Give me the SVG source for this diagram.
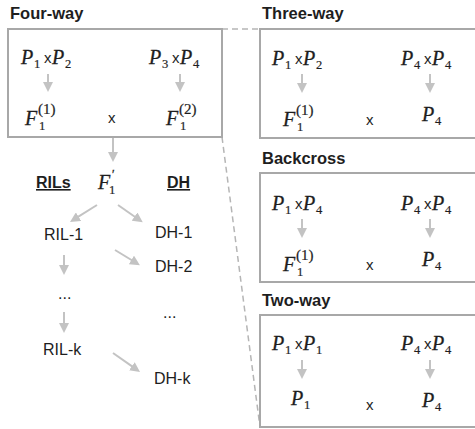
<svg xmlns="http://www.w3.org/2000/svg" width="475" height="429" viewBox="0 0 475 429">
<defs>
<marker id="ah" markerUnits="userSpaceOnUse" markerWidth="10" markerHeight="10" viewBox="0 0 10 10" refX="2" refY="5" orient="auto">
<path d="M0,0 L10,5 L0,10 z" fill="#c3c3c3"/>
</marker>
<style>
.box{fill:none;stroke:#a8a8a8;stroke-width:2}
.dash{fill:none;stroke:#b5b5b5;stroke-width:1.5;stroke-dasharray:6,4}
.arr{fill:none;stroke:#c3c3c3;stroke-width:2;marker-end:url(#ah)}
.t{font-family:"Liberation Sans",Arial,sans-serif;font-size:16px;fill:#1e1e1e}
.h{font-family:"Liberation Sans",Arial,sans-serif;font-size:16.5px;font-weight:bold;fill:#1e1e1e}
.u{font-family:"Liberation Sans",Arial,sans-serif;font-size:16px;font-weight:bold;fill:#1e1e1e;text-decoration:underline}
.m{font-family:"Liberation Serif","DejaVu Serif",serif;font-style:italic;font-size:20px;fill:#1e1e1e;stroke:#1e1e1e;stroke-width:0.3}
.s{font-family:"Liberation Serif","DejaVu Serif",serif;font-style:normal;font-size:12.5px;fill:#1e1e1e;stroke:#1e1e1e;stroke-width:0.2}
.sp{font-family:"Liberation Serif","DejaVu Serif",serif;font-style:normal;font-size:15px;fill:#1e1e1e;stroke:#1e1e1e;stroke-width:0.2}
.pr{font-family:"Liberation Serif","DejaVu Serif",serif;font-style:normal;font-size:12px;fill:#1e1e1e;stroke:#1e1e1e;stroke-width:0.3}
.x{font-family:"Liberation Sans",Arial,sans-serif;font-size:15px;fill:#1e1e1e}
</style>
</defs>

<g id="connectors">
<line class="dash" x1="222" y1="29" x2="260" y2="29"/>
<line class="dash" x1="222" y1="137" x2="260" y2="427"/>
<line class="arr" x1="113" y1="137" x2="113" y2="154"/>
<line class="arr" x1="97" y1="205" x2="76.8" y2="217.7"/>
<line class="arr" x1="118" y1="205" x2="136.2" y2="217.7"/>
<line class="arr" x1="115" y1="250" x2="133.1" y2="261"/>
<line class="arr" x1="64" y1="255" x2="64" y2="267"/>
<line class="arr" x1="64" y1="312" x2="64" y2="325"/>
<line class="arr" x1="113" y1="353" x2="133.5" y2="367.4"/>
</g>

<g id="four-way">
<text class="h" x="10" y="19">Four-way</text>
<rect class="box" x="8" y="29" width="214" height="108"/>
<text class="m" x="21" y="64">P</text><text class="s" x="34" y="68">1</text>
<text class="x" x="44" y="63">x</text>
<text class="m" x="52" y="64">P</text><text class="s" x="65" y="68">2</text>
<line class="arr" x1="48" y1="74" x2="48" y2="84"/>
<text class="m" x="25" y="125">F</text><text class="sp" x="38" y="114">(1)</text><text class="s" x="39" y="130">1</text>
<text class="x" x="108" y="123">x</text>
<text class="m" x="149" y="64">P</text><text class="s" x="162" y="68">3</text>
<text class="x" x="172" y="63">x</text>
<text class="m" x="180" y="64">P</text><text class="s" x="193" y="68">4</text>
<line class="arr" x1="180" y1="74" x2="180" y2="84"/>
<text class="m" x="166" y="125">F</text><text class="sp" x="179" y="114">(2)</text><text class="s" x="180" y="130">1</text>
</g>

<g id="three-way">
<text class="h" x="262" y="19">Three-way</text>
<rect class="box" x="260" y="29" width="230" height="109"/>
<text class="m" x="272" y="65">P</text><text class="s" x="285" y="69">1</text>
<text class="x" x="295" y="64">x</text>
<text class="m" x="303" y="65">P</text><text class="s" x="316" y="69">2</text>
<line class="arr" x1="302" y1="74" x2="302" y2="85"/>
<text class="m" x="283" y="126">F</text><text class="sp" x="296" y="115">(1)</text><text class="s" x="297" y="131">1</text>
<text class="x" x="366" y="125">x</text>
<text class="m" x="401" y="65">P</text><text class="s" x="414" y="69">4</text>
<text class="x" x="424" y="64">x</text>
<text class="m" x="432" y="65">P</text><text class="s" x="445" y="69">4</text>
<line class="arr" x1="430" y1="74" x2="430" y2="85"/>
<text class="m" x="422" y="121">P</text><text class="s" x="435" y="125">4</text>
</g>

<g id="backcross">
<text class="h" x="262" y="164">Backcross</text>
<rect class="box" x="260" y="173" width="230" height="109"/>
<text class="m" x="272" y="210">P</text><text class="s" x="285" y="214">1</text>
<text class="x" x="295" y="209">x</text>
<text class="m" x="303" y="210">P</text><text class="s" x="316" y="214">4</text>
<line class="arr" x1="302" y1="219" x2="302" y2="230"/>
<text class="m" x="283" y="271">F</text><text class="sp" x="296" y="260">(1)</text><text class="s" x="297" y="276">1</text>
<text class="x" x="366" y="270">x</text>
<text class="m" x="401" y="210">P</text><text class="s" x="414" y="214">4</text>
<text class="x" x="424" y="209">x</text>
<text class="m" x="432" y="210">P</text><text class="s" x="445" y="214">4</text>
<line class="arr" x1="430" y1="219" x2="430" y2="230"/>
<text class="m" x="422" y="266">P</text><text class="s" x="435" y="270">4</text>
</g>

<g id="two-way">
<text class="h" x="262" y="306">Two-way</text>
<rect class="box" x="260" y="315" width="230" height="112"/>
<text class="m" x="272" y="350">P</text><text class="s" x="285" y="354">1</text>
<text class="x" x="295" y="349">x</text>
<text class="m" x="303" y="350">P</text><text class="s" x="316" y="354">1</text>
<line class="arr" x1="302" y1="360" x2="302" y2="371"/>
<text class="m" x="291" y="405">P</text><text class="s" x="304" y="409">1</text>
<text class="x" x="366" y="410">x</text>
<text class="m" x="401" y="350">P</text><text class="s" x="414" y="354">4</text>
<text class="x" x="424" y="349">x</text>
<text class="m" x="432" y="350">P</text><text class="s" x="445" y="354">4</text>
<line class="arr" x1="430" y1="360" x2="430" y2="371"/>
<text class="m" x="422" y="407">P</text><text class="s" x="435" y="411">4</text>
</g>

<g id="f1prime">
<text class="m" x="98" y="189">F</text>
<text class="s" x="109" y="194">1</text>
<text class="pr" x="112" y="178">′</text>
</g>
<g id="rils-label"><text class="u" x="36" y="188">RILs</text></g>
<g id="dh-label"><text class="u" x="167" y="188">DH</text></g>
<g id="ril-1"><text class="t" x="44" y="240">RIL-1</text></g>
<g id="dh-1"><text class="t" x="155" y="238">DH-1</text></g>
<g id="dh-2"><text class="t" x="155" y="272">DH-2</text></g>
<g id="ril-dots"><text class="t" x="58" y="299">...</text></g>
<g id="dh-dots"><text class="t" x="163" y="318">...</text></g>
<g id="ril-k"><text class="t" x="43" y="355">RIL-k</text></g>
<g id="dh-k"><text class="t" x="154" y="384">DH-k</text></g>
</svg>
